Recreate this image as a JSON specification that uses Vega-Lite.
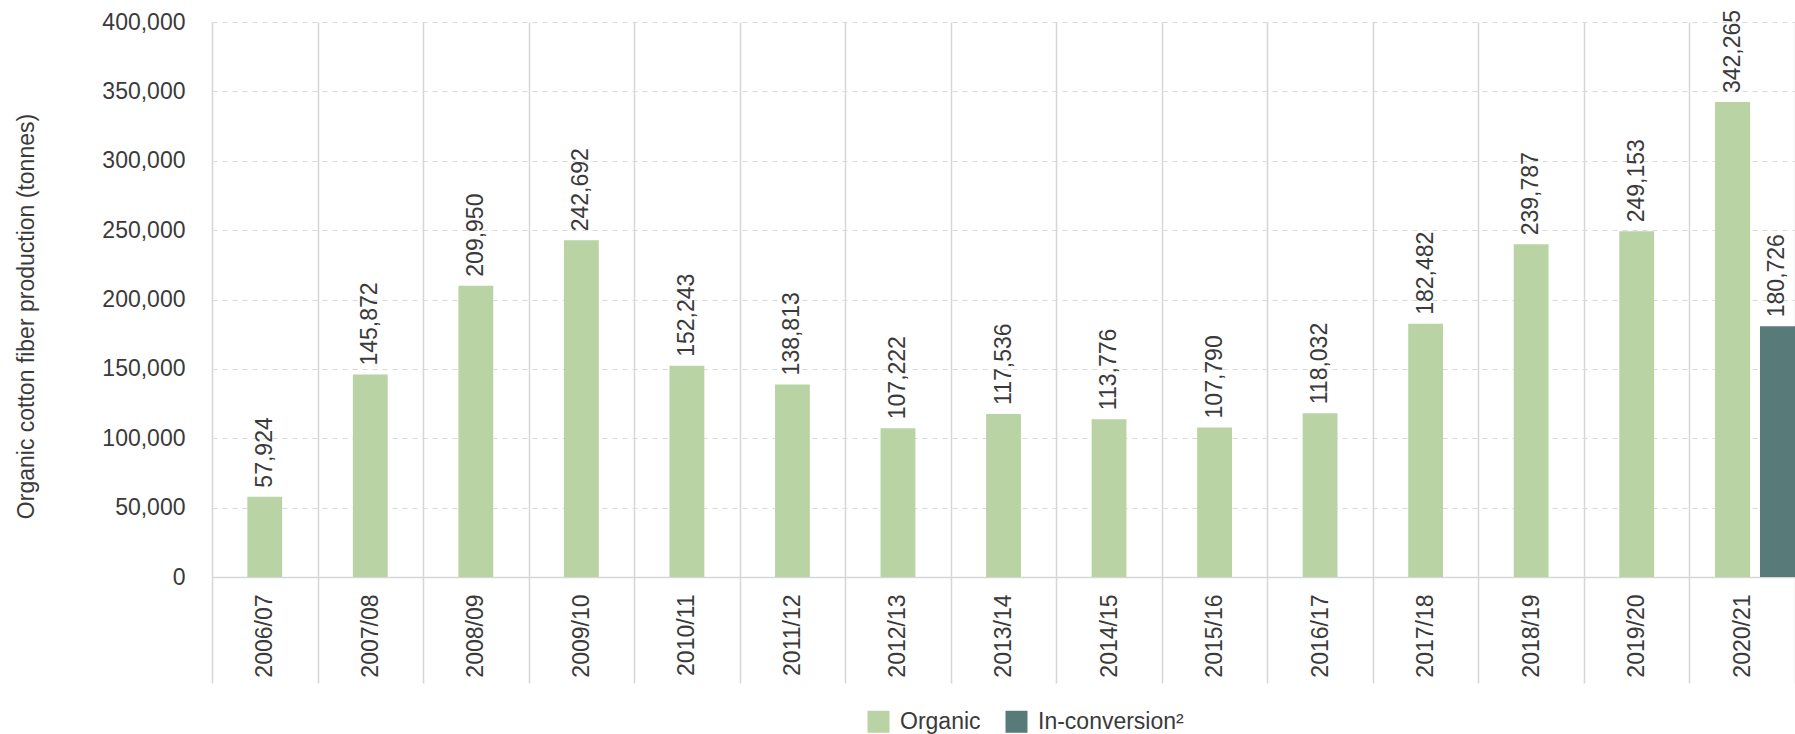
{
  "$schema": "https://vega.github.io/schema/vega-lite/v6.json",
  "width": 1583,
  "height": 555,
  "autosize": {"type": "none"},
  "padding": {"left": 212, "top": 22, "right": 0, "bottom": 157},
  "background": "white",
  "config": {
    "font": "Liberation Sans",
    "view": {"stroke": null},
    "axis": {"labelColor": "#3a3a3a", "titleColor": "#3a3a3a", "labelFont": "Liberation Sans", "titleFont": "Liberation Sans"},
    "legend": {"labelColor": "#3a3a3a", "labelFont": "Liberation Sans"}
  },
  "data": {
    "values": [
      {"season": "2006/07", "series": "Organic", "value": 57924},
      {"season": "2007/08", "series": "Organic", "value": 145872},
      {"season": "2008/09", "series": "Organic", "value": 209950},
      {"season": "2009/10", "series": "Organic", "value": 242692},
      {"season": "2010/11", "series": "Organic", "value": 152243},
      {"season": "2011/12", "series": "Organic", "value": 138813},
      {"season": "2012/13", "series": "Organic", "value": 107222},
      {"season": "2013/14", "series": "Organic", "value": 117536},
      {"season": "2014/15", "series": "Organic", "value": 113776},
      {"season": "2015/16", "series": "Organic", "value": 107790},
      {"season": "2016/17", "series": "Organic", "value": 118032},
      {"season": "2017/18", "series": "Organic", "value": 182482},
      {"season": "2018/19", "series": "Organic", "value": 239787},
      {"season": "2019/20", "series": "Organic", "value": 249153},
      {"season": "2020/21", "series": "Organic", "value": 342265},
      {"season": "2020/21", "series": "In-conversion²", "value": 180726}
    ]
  },
  "encoding": {
    "x": {
      "field": "season",
      "type": "nominal",
      "sort": null,
      "scale": {"paddingInner": 0, "paddingOuter": 0},
      "axis": {
        "title": null,
        "labelAngle": -90,
        "labelFontSize": 23,
        "labelPadding": -89,
        "tickBand": "extent",
        "tickSize": 106,
        "tickColor": "#d6d6d6",
        "tickWidth": 1.5,
        "domainColor": "#d6d6d6",
        "domainWidth": 1.5,
        "grid": true,
        "gridColor": "#d6d6d6",
        "gridWidth": 1.5
      }
    },
    "y": {
      "field": "value",
      "type": "quantitative",
      "scale": {"domain": [0, 400000], "nice": false},
      "axis": {
        "title": "Organic cotton fiber production (tonnes)",
        "titleFontSize": 23,
        "titleFontWeight": "normal",
        "titlePadding": 63,
        "titleY": 294,
        "values": [0, 50000, 100000, 150000, 200000, 250000, 300000, 350000, 400000],
        "format": ",d",
        "labelFontSize": 23,
        "labelPadding": 27,
        "ticks": false,
        "domain": false,
        "grid": true,
        "gridColor": "#d9d9d9",
        "gridDash": [5, 5],
        "gridWidth": 1.2
      }
    },
    "color": {
      "field": "series",
      "type": "nominal",
      "scale": {"domain": ["Organic", "In-conversion²"], "range": ["#bad3a4", "#587a78"]},
      "legend": {
        "title": null,
        "orient": "none",
        "legendX": 655,
        "legendY": 688,
        "direction": "horizontal",
        "symbolType": "square",
        "symbolSize": 484,
        "symbolStrokeWidth": 0,
        "labelFontSize": 23,
        "labelOffset": 10,
        "columnPadding": 24
      }
    }
  },
  "layer": [
    {
      "transform": [{"filter": "datum.season !== '2020/21'"}],
      "mark": {"type": "bar", "width": {"band": 0.33}}
    },
    {
      "transform": [{"filter": "datum.season === '2020/21'"}],
      "mark": {"type": "bar"},
      "encoding": {
        "xOffset": {"field": "series", "type": "nominal", "sort": ["Organic", "In-conversion²"], "scale": {"paddingInner": 0.22, "paddingOuter": 0.285, "align": 1}}
      }
    },
    {
      "transform": [{"filter": "datum.season !== '2020/21'"}],
      "mark": {"type": "text", "angle": 270, "align": "left", "baseline": "middle", "dx": 9, "fontSize": 23, "color": "#3a3a3a"},
      "encoding": {"text": {"field": "value", "format": ","}, "color": {"value": "#3a3a3a"}}
    },
    {
      "transform": [{"filter": "datum.season === '2020/21'"}],
      "mark": {"type": "text", "angle": 270, "align": "left", "baseline": "middle", "dx": 9, "fontSize": 23, "color": "#3a3a3a"},
      "encoding": {
        "xOffset": {"field": "series", "type": "nominal", "sort": ["Organic", "In-conversion²"]},
        "text": {"field": "value", "format": ","},
        "color": {"value": "#3a3a3a"}
      }
    }
  ]
}
